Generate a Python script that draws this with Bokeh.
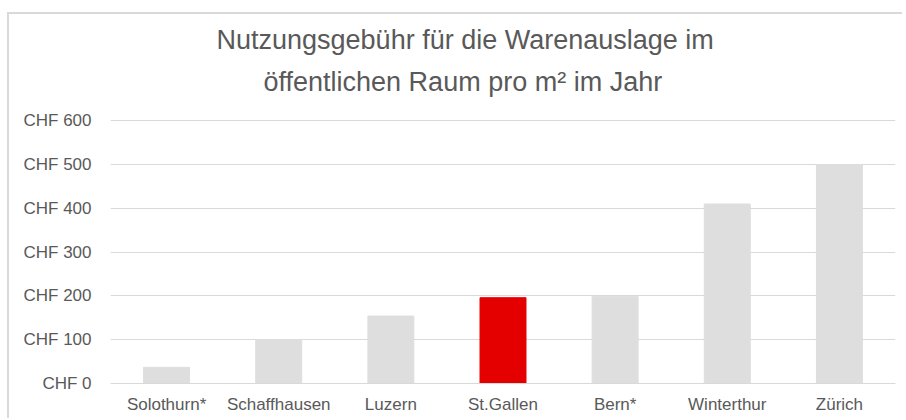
from bokeh.plotting import figure
from bokeh.models import ColumnDataSource, FixedTicker, Range1d, Title
from bokeh.embed import file_html
from bokeh.resources import INLINE

categories = ["Solothurn*", "Schaffhausen", "Luzern", "St.Gallen", "Bern*", "Winterthur", "Zürich"]
values = [37, 100, 154, 196, 199, 410, 500]
colors = ["#dedede", "#dedede", "#dedede", "#e50000", "#dedede", "#dedede", "#dedede"]
tick_values = [0, 100, 200, 300, 400, 500, 600]
tick_labels = ["CHF 0", "CHF 100", "CHF 200", "CHF 300", "CHF 400", "CHF 500", "CHF 600"]
title_line1 = "Nutzungsgebühr für die Warenauslage im"
title_line2 = "öffentlichen Raum pro m² im Jahr"

source = ColumnDataSource(dict(cat=categories, val=values, color=colors))

p = figure(x_range=categories, y_range=Range1d(0, 603), width=895, height=406,
           output_backend="svg", toolbar_location=None,
           min_border_left=101, min_border_right=9, min_border_top=105, min_border_bottom=37)
p.vbar(x="cat", top="val", width=0.41, color="color", source=source)

p.title.text = title_line1
p.title.align = "left"
p.title.offset = 106
p.title.text_font = "Liberation Sans"
p.title.text_font_size = "27px"
p.title.text_font_style = "normal"
p.title.text_color = "#595959"
p.title.standoff = -25

t2 = Title(text=title_line2, align="left", offset=153, text_font="Liberation Sans",
           text_font_size="27px", text_font_style="normal", text_color="#595959", standoff=45)
p.add_layout(t2, "above")

p.outline_line_color = None
p.xgrid.grid_line_color = None
p.ygrid.grid_line_color = "#d9d9d9"
p.ygrid.grid_line_width = 1
p.yaxis.ticker = FixedTicker(ticks=tick_values)
p.yaxis.major_label_overrides = {v: l for v, l in zip(tick_values, tick_labels)}
p.yaxis.axis_line_color = None
p.yaxis.major_tick_line_color = None
p.yaxis.minor_tick_line_color = None
p.yaxis.major_label_text_font = "Liberation Sans"
p.yaxis.major_label_text_font_size = "17px"
p.yaxis.major_label_text_color = "#595959"
p.yaxis.major_label_standoff = 13

p.xaxis.axis_line_color = "#d9d9d9"
p.xaxis.major_tick_line_color = None
p.xaxis.minor_tick_line_color = None
p.xaxis.major_label_text_font = "Liberation Sans"
p.xaxis.major_label_text_font_size = "17px"
p.xaxis.major_label_text_color = "#595959"
p.xaxis.major_label_standoff = 5

p.styles = {"border-top": "2px solid #d9d9d9", "border-left": "2px solid #d9d9d9",
            "margin-top": "12px", "margin-left": "7px"}

open("out.html", "w").write(file_html(p, INLINE))
